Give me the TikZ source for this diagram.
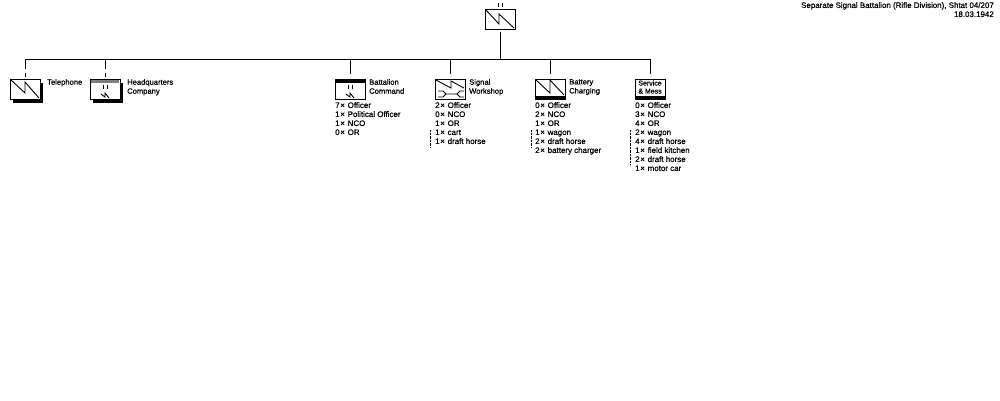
\documentclass[tikz,border=0pt]{standalone}
\usepackage{fontspec}
\setmainfont[FakeBold=0.6]{Liberation Sans}
\usetikzlibrary{calc,positioning}
\newcommand{\tms}{\kern0.6pt×\kern0.6pt\ }
\tikzset{
  unitbox/.style={draw, line width=1pt, fill=white, minimum width=30pt, minimum height=20pt, inner sep=0pt},
  shadowbox/.style={fill=black, minimum width=30pt, minimum height=20pt, inner sep=0pt},
  txt/.style={font=\fontsize{7.95}{9}\selectfont, align=left, anchor=north west, inner sep=0pt},
  lbl/.style={txt, font=\fontsize{7.6}{9}\selectfont},
  conn/.style={line width=1pt},
  zig/.style={line width=0.9pt}
}
\begin{document}
\begin{tikzpicture}[x=1pt,y=-1pt]
\useasboundingbox (0,0) rectangle (1000,400);
% top unit
\node[unitbox] (top) at (500,19) {};
\draw[zig] (486,10) -- (499,24) -- (499,14) -- (514,28);
\draw[conn] (498,3) -- (498,7) (502,3) -- (502,7);
\coordinate (busl) at (25,59);
\coordinate (busr) at (650,59);
\draw[conn] (busl) -- (busr);
\draw[conn] ($(top.south)+(0,2)$) -- (top.south |- busl);
\node[txt, anchor=north east, align=right] (title) at (994,2) {Separate Signal Battalion (Rifle Division), Shtat 04/207\\18.03.1942};
% telephone
\node[shadowbox] (telS) at (28,93) {};
\node[unitbox] (tel) at (25,89) {};
\draw[conn] (tel.north |- busl) -- ++(0,10);
\draw[conn] (25,73) -- (tel.north |- 0,77);
\draw[zig] (11,80) -- (25,93) -- (25,82) -- (39,98);
\node[lbl] (telT) at (47,79) {Telephone};
% headquarters
\node[shadowbox] (hqS) at (108,93) {};
\node[unitbox] (hq) at (105,89) {};
\draw[conn] (hq.north |- busl) -- ++(0,10);
\draw[conn] (105,73) -- (hq.north |- 0,77);
\fill[gray] (91,80) rectangle (119,83);
\draw[conn] (103,85) -- (103,89) (107,85) -- (107,89);
\draw[zig] (101,94) -- (105,97) -- (105,93) -- (109,98);
\node[lbl] (hqT) at (127,79) {Headquarters\\Company};
% battalion command
\node[unitbox] (bc) at (350,89) {};
\draw[conn] (bc.north |- busl) -- (bc.north |- 0,74);
\fill (335,79) rectangle (365,83);
\draw[conn] (348,85) -- (348,89) (352,85) -- (352,89);
\draw[zig] (346,94) -- (350,97) -- (350,93) -- (354,98);
\node[lbl] (bcT) at (369,79) {Battalion\\Command};
\node[txt] (bcL) at (335,102) {7\tms Officer\\1\tms Political Officer\\1\tms NCO\\0\tms OR};
% signal workshop
\node[unitbox] (sw) at (450,89) {};
\draw[conn] (sw.north |- busl) -- (sw.north |- 0,74);
\draw[zig] (436,80) -- (451,88) -- (451,81) -- (464,88);
\draw[zig] (438,91) -- (443,91) -- (446,94) -- (457,94) -- (460,91) -- (464,91);
\draw[zig] (438,97) -- (443,97) -- (446,94) (457,94) -- (460,97) -- (464,97);
\node[lbl] (swT) at (469,79) {Signal\\Workshop};
\node[txt] (swL) at (435,102) {2\tms Officer\\0\tms NCO\\1\tms OR\\1\tms cart\\1\tms draft horse};
\draw[densely dotted] (430,130) -- (430,147);
% battery charging
\node[unitbox] (ch) at (550,89) {};
\draw[conn] (ch.north |- busl) -- (ch.north |- 0,74);
\fill (535,96) rectangle (565,99.5);
\draw[zig] (536,80) -- (550,93) -- (550,80) -- (564,95);
\node[lbl] (chT) at (569,79) {Battery\\Charging};
\node[txt] (chL) at (535,102) {0\tms Officer\\2\tms NCO\\1\tms OR\\1\tms wagon\\2\tms draft horse\\2\tms battery charger};
\draw[densely dotted] (531,130) -- (531,147);
% service and mess
\node[unitbox] (sm) at (650,89) {};
\draw[conn] (sm.north |- busl) -- (sm.north |- 0,74);
\fill (635,96) rectangle (665,99.5);
\node[font=\fontsize{7}{8}\selectfont, align=center, inner sep=0pt] (smT) at (650,87) {Service\\\& Mess};
\node[txt] (smL) at (635,102) {0\tms Officer\\3\tms NCO\\4\tms OR\\2\tms wagon\\4\tms draft horse\\1\tms field kitchen\\2\tms draft horse\\1\tms motor car};
\draw[densely dotted] (630,130) -- (630,165);
\end{tikzpicture}
\end{document}
